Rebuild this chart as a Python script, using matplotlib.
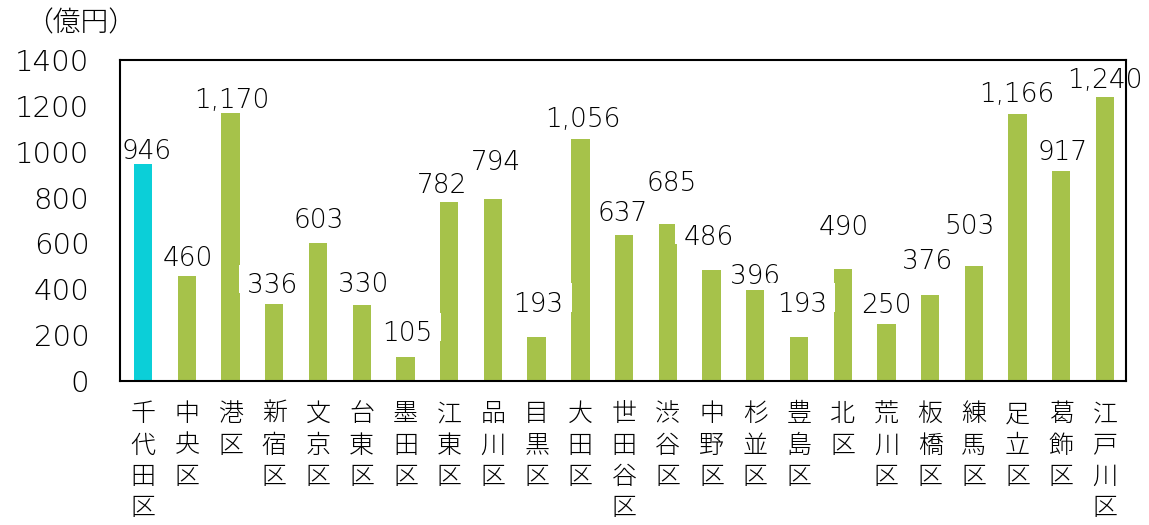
import matplotlib
matplotlib.use('Agg')
import matplotlib.pyplot as plt
from matplotlib.path import Path

plt.rcParams['font.family'] = ['Noto Sans CJK JP', 'DejaVu Sans']

### Data ###

wards = ['千代田区', '中央区', '港区', '新宿区', '文京区', '台東区', '墨田区', '江東区',
         '品川区', '目黒区', '大田区', '世田谷区', '渋谷区', '中野区', '杉並区', '豊島区',
         '北区', '荒川区', '板橋区', '練馬区', '足立区', '葛飾区', '江戸川区']
values = [946, 460, 1170, 336, 603, 330, 105, 782, 794, 193, 1056, 637, 685, 486,
          396, 193, 490, 250, 376, 503, 1166, 917, 1240]
highlight = '千代田区'
y_ticks = [0, 200, 400, 600, 800, 1000, 1200, 1400]

### Layout ###

# label nudges in pixels (the original has hand-placed labels)
label_dy = [5, 10, 5, 11, 15, 13, 16, 9, 29, 25, 12, 14, 33, 25, 6, 25, 34, 11,
            26, 32, 12, 11, 9]
label_dx = [3, 1, 1, -2, 1, 1, 2, -7, 3, 2, 2, -1, 4, -3, 0, 3, 1, 0, -3, -4,
            -1, 1, 0]
num_font = ['DejaVu Sans']
px = 72 / 100  # pixels -> points


def label_box(x0, y0, width, height, mutation_size):
    # white box padded left/right/top, but not below the baseline,
    # so it hides neighbouring bars and never the bar it belongs to
    pad = 0.32 * mutation_size
    bottom = y0 + 0.2 * mutation_size
    top = y0 + height + pad
    return Path([(x0 - pad, bottom), (x0 + width + pad, bottom),
                 (x0 + width + pad, top), (x0 - pad, top), (x0 - pad, bottom)],
                closed=True)


### Plot ###

fig = plt.figure(figsize=(11.49, 5.25), dpi=100)
ax = fig.add_axes([0.1044, 0.274, 0.8756, 0.612])

colors = ['#0BCFD8' if w == highlight else '#A6C24A' for w in wards]
x = list(range(len(wards)))
ax.bar(x, values, width=0.42, color=colors, zorder=2)

for xi, v, dx, dy in zip(x, values, label_dx, label_dy):
    ax.annotate(f'{v:,}', (xi, v), xytext=(dx * px, dy * px), textcoords='offset points',
                ha='center', va='baseline', fontsize=19, family=num_font,
                fontweight='light', zorder=2.2,
                bbox=dict(boxstyle=label_box, fc='white', ec='none'))

ax.set_xlim(-0.53, len(wards) - 0.52)
ax.set_ylim(0, 1400)
ax.set_yticks(y_ticks)
ax.set_yticklabels([str(t) for t in y_ticks], fontsize=21, family=num_font,
                   fontweight='light')
ax.set_xticks(x)
ax.set_xticklabels(['\n'.join(w) for w in wards], fontsize=18, linespacing=1.24,
                   fontweight='light')
ax.tick_params(axis='both', length=0)
ax.tick_params(axis='y', pad=22)
ax.tick_params(axis='x', pad=14)

for s in ax.spines.values():
    s.set_linewidth(1.5)
    s.set_color('black')

fig.text(0.022, 0.956, '（億円）', fontsize=20, ha='left', va='center', fontweight='light')

fig.savefig('out.png', dpi=100)
